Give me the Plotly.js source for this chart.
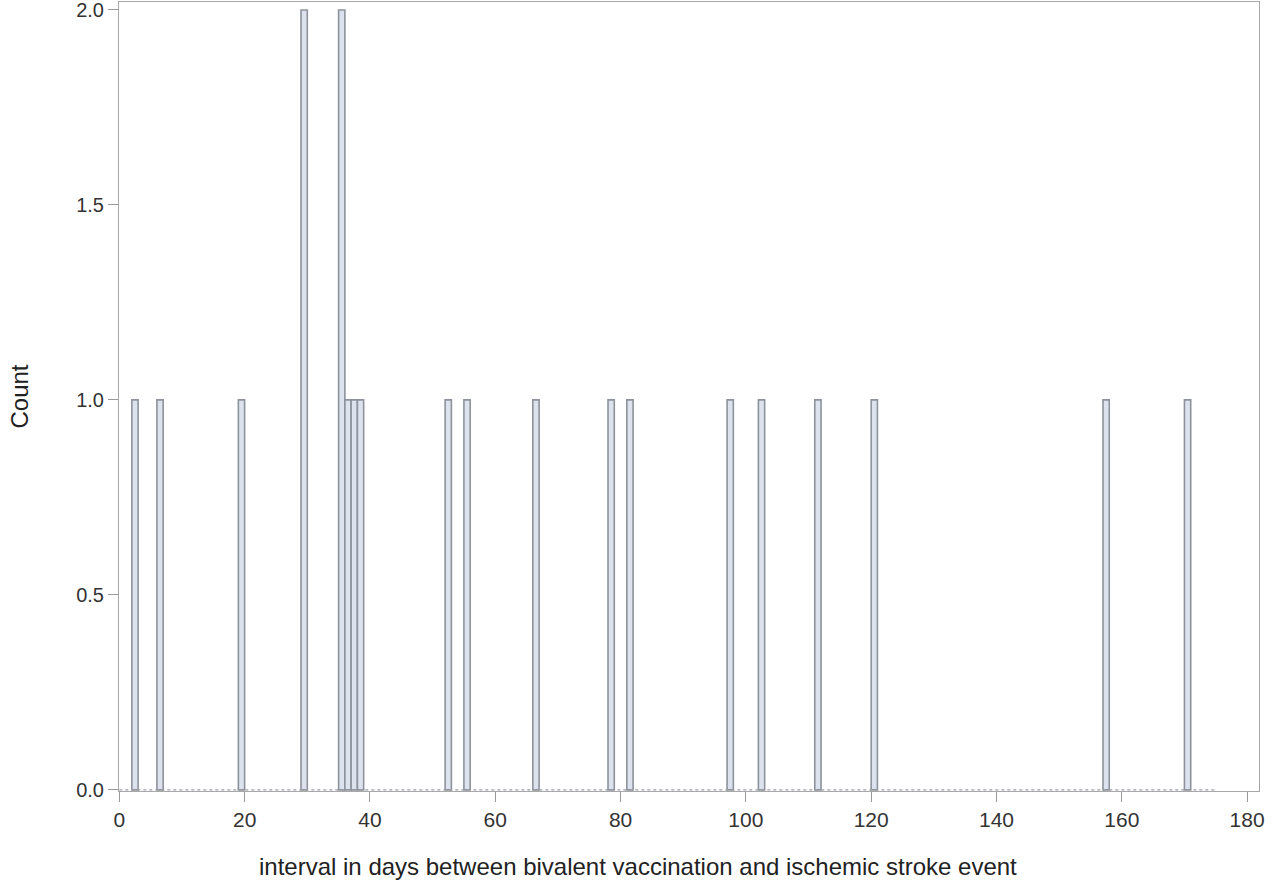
<!DOCTYPE html>
<html>
<head>
<meta charset="utf-8">
<script src="https://cdn.plot.ly/plotly-3.0.1.min.js"></script>
<style>html,body{margin:0;padding:0;background:#fff;}#chart{width:1280px;height:885px;}</style>
</head>
<body>
<div id="chart"></div>
<script>
// Observed intervals (days) between bivalent vaccination and ischemic stroke event
var intervalDays = [2, 6, 19, 29, 29, 35, 35, 36, 37, 38, 52, 55, 66, 78, 81, 97, 102, 111, 120, 157, 170];
// Histogram binning (days)
var binStart = 0;
var binEnd = 175;
var binSize = 1;
var xTickValues = [0, 20, 40, 60, 80, 100, 120, 140, 160, 180];
var yTickValues = [0, 0.5, 1.0, 1.5, 2.0];
var xTitleText = 'interval in days between bivalent vaccination and ischemic stroke event';
var yTitleText = 'Count';

var trace = {
  type: 'histogram',
  x: intervalDays,
  xbins: {start: binStart, end: binEnd, size: binSize},
  marker: {color: '#dde3ee', line: {color: '#8d929c', width: 1.6}},
  hoverinfo: 'x+y'
};

var baseline = {
  type: 'scatter',
  mode: 'lines',
  x: [binStart, binEnd],
  y: [0, 0],
  line: {color: '#9a9ea8', width: 1.2, dash: 'dot'},
  hoverinfo: 'skip',
  showlegend: false
};

var layout = {
  width: 1280,
  height: 885,
  margin: {l: 119, r: 21, t: 2, b: 94},
  paper_bgcolor: '#ffffff',
  plot_bgcolor: '#ffffff',
  showlegend: false,
  bargap: 0,
  font: {family: 'Liberation Sans, Arial, sans-serif', color: '#333333'},
  xaxis: {
    range: [-0.05, 181.9],
    tickmode: 'array',
    tickvals: xTickValues,
    ticks: 'outside',
    ticklen: 10,
    tickcolor: '#9a9a9a',
    tickfont: {size: 21, color: '#333333'},
    showgrid: false,
    zeroline: false,
    showline: true,
    linecolor: '#a8a8a8',
    linewidth: 1,
    mirror: true,
    automargin: false
  },
  yaxis: {
    range: [-0.003, 2.0205],
    tickmode: 'array',
    tickvals: yTickValues,
    tickformat: '.1f',
    ticks: 'outside',
    ticklen: 10,
    tickcolor: '#9a9a9a',
    tickfont: {size: 20, color: '#333333'},
    ticklabeloverflow: 'allow',
    showgrid: false,
    zeroline: false,
    showline: true,
    linecolor: '#a8a8a8',
    linewidth: 1,
    mirror: true,
    automargin: false,
    title: {text: yTitleText, font: {size: 24, color: '#222222'}, standoff: 40}
  },
  annotations: [{
    text: xTitleText,
    xref: 'paper', yref: 'paper',
    x: 0.4557, y: 0,
    xanchor: 'center', yanchor: 'middle',
    yshift: -75,
    showarrow: false,
    font: {size: 24, color: '#222222'}
  }]
};

Plotly.newPlot('chart', [trace, baseline], layout, {displayModeBar: false, staticPlot: true});
</script>
</body>
</html>
